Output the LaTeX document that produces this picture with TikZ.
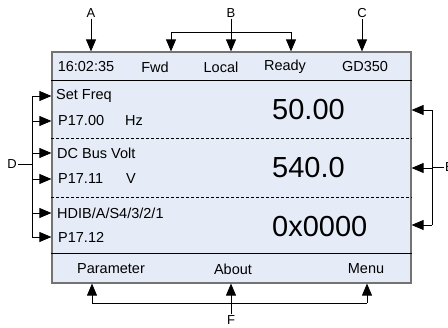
\documentclass[tikz,border=0pt]{standalone}
\usepackage{fontspec}
\setmainfont{Liberation Sans}
\usetikzlibrary{arrows.meta, positioning}
\definecolor{lcdfill}{RGB}{230,236,247}

\begin{document}
\begin{tikzpicture}[x=1pt, y=-1pt,
  panel/.style={rectangle, draw=black!55, line width=1.2pt, fill=lcdfill,
                minimum width=359pt, minimum height=231pt, inner sep=0pt},
  txt/.style={inner sep=1pt, font=\fontsize{14.5}{16}\selectfont},
  rowtxt/.style={txt, anchor=west},
  val/.style={inner sep=0pt, anchor=west, font=\fontsize{29}{32}\selectfont},
  lbl/.style={inner sep=1pt, font=\fontsize{13}{15}\selectfont},
  arr/.style={-{Triangle[length=12pt, width=10pt]}, line width=0.8pt},
  ln/.style={line width=0.8pt},
  sep/.style={line width=0.6pt, dash pattern=on 3pt off 2pt}
]
\useasboundingbox (0,0) rectangle (448,328);

\node[panel] (panel) at (231.5,167.5) {};

% header and footer rules, dashed row separators
\draw[ln] (panel.west |- 0,80) -- (panel.east |- 0,80);
\draw[ln] (panel.west |- 0,253) -- (panel.east |- 0,253);
\draw[sep] (panel.west |- 0,138) -- (panel.east |- 0,138);
\draw[sep] (panel.west |- 0,197) -- (panel.east |- 0,197);

% status line
\node[txt] (time)  at (86,67)  {16:02:35};
\node[txt] (dir)   at (155,67) {Fwd};
\node[txt] (local) at (221,67) {Local};
\node[txt] (ready) at (285,67) {Ready};
\node[txt] (model) at (365,67) {GD350};

% parameter rows
\node[rowtxt] (name1) at (55,96)  {Set Freq};
\node[rowtxt] (code1) at (57,121) {P17.00};
\node[rowtxt] (unit1) at (124,121) {Hz};
\node[rowtxt] (name2) at (56,153) {DC Bus Volt};
\node[rowtxt] (code2) at (57,179) {P17.11};
\node[rowtxt] (unit2) at (125,179) {V};
\node[rowtxt] (name3) at (56,213) {HDIB/A/S4/3/2/1};
\node[rowtxt] (code3) at (57,237) {P17.12};

\node[val] (val1) at (272,110) {50.00};
\node[val] (val2) at (272,168) {540.0};
\node[val] (val3) at (272,227) {0x0000};

% soft keys
\node[txt] (key1) at (111,269) {Parameter};
\node[txt] (key2) at (233,269) {About};
\node[txt] (key3) at (366,269) {Menu};

% callout letters
\node[lbl] (A) at (91,13)  {A};
\node[lbl] (B) at (231,13) {B};
\node[lbl] (C) at (362,13) {C};
\node[lbl] (D) at (12,164) {D};
\node[lbl, anchor=west] (E) at (444,167) {E};
\node[lbl] (F) at (231,320) {F};

\coordinate (bl) at (171,32);
\coordinate (br) at (291,32);
\coordinate (dtop) at (32,96);
\coordinate (dbot) at (32,237);
\coordinate (etop) at (432,110);
\coordinate (ebot) at (432,225);
\coordinate (fl) at (92,303);
\coordinate (fr) at (367,303);

\draw[arr] (A) -- (A |- panel.north);
\draw[arr] (B) -- (B |- panel.north);
\draw[arr] (C) -- (C |- panel.north);
\draw[ln] (bl) -- (br);
\draw[arr] (bl) -- (bl |- panel.north);
\draw[arr] (br) -- (br |- panel.north);

\draw[ln] (dtop) -- (dbot);
\draw[ln] (D) -- (dtop |- D);
\foreach \r in {name1, code1, name2, code2, name3, code3}
  \draw[arr] (dtop |- \r) -- (panel.west |- \r);

\draw[ln] (etop) -- (ebot);
\draw[ln] (E.west) -- (etop |- E);
\draw[arr] (etop) -- (panel.east |- etop);
\draw[arr] (etop |- val2) -- (panel.east |- val2);
\draw[arr] (ebot) -- (panel.east |- ebot);

\draw[ln] (fl) -- (fr);
\draw[arr] (fl) -- (fl |- panel.south);
\draw[arr] (fr) -- (fr |- panel.south);
\draw[arr] (F) -- (F |- panel.south);
\end{tikzpicture}
\end{document}
